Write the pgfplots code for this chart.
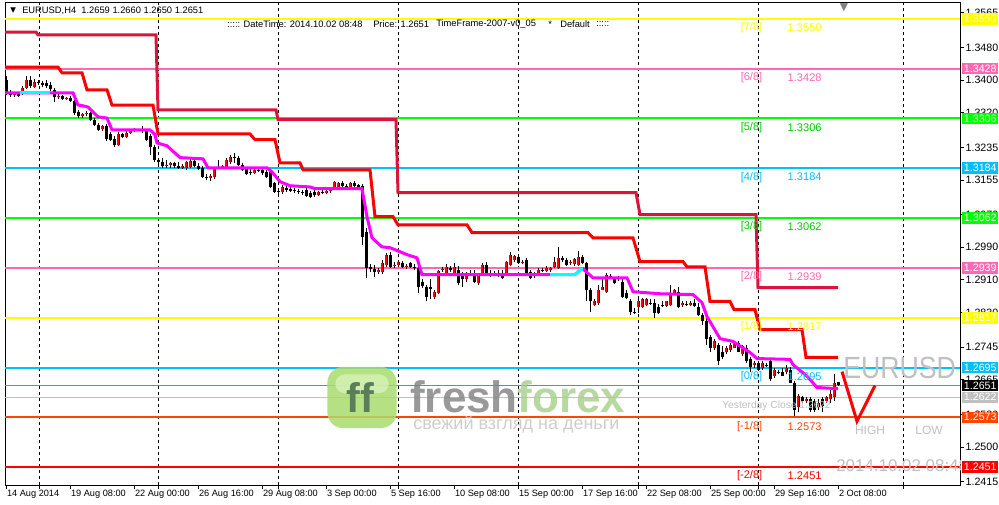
\documentclass[border=0pt]{standalone}
\usepackage{fontspec}
\setmainfont{Liberation Sans}
\newfontfamily\dejavu{DejaVu Sans}
\usepackage{graphicx}
\usepackage{pgfplots}
\usepackage{pgfplotstable}
\pgfplotsset{compat=1.18}
\definecolor{lvyellow}{RGB}{255,255,0}
\definecolor{lvpink}{RGB}{255,105,180}
\definecolor{lvgreen}{RGB}{0,255,0}
\definecolor{lvblue}{RGB}{0,191,255}
\definecolor{lvorange}{RGB}{255,69,0}
\definecolor{lvred}{RGB}{255,0,0}
\definecolor{pxline}{RGB}{119,136,153}
\definecolor{silverc}{RGB}{192,192,192}
\definecolor{crims}{RGB}{220,20,60}
\definecolor{magen}{RGB}{255,0,255}
\definecolor{cyn}{RGB}{0,255,255}
\definecolor{ffgray}{RGB}{128,128,128}
\definecolor{ffgreen}{RGB}{166,208,138}
\definecolor{ffdark}{RGB}{90,125,90}
\definecolor{logofill}{RGB}{170,220,110}
\definecolor{logohi}{RGB}{220,245,195}
\newcommand\midfont{\fontsize{8.3}{9}\selectfont}
\newcommand\hdrfont{\fontsize{7}{8}\selectfont}

\pgfplotstableread{
x o h l c
2 1.3364 1.3371 1.3359 1.3366
4 1.3369 1.3386 1.3364 1.3381
5 1.3381 1.3410 1.3378 1.3401
7 1.3383 1.3403 1.3381 1.3396
13 1.3359 1.3366 1.3354 1.3361
15 1.3354 1.3359 1.3352 1.3357
19 1.3312 1.3320 1.3307 1.3317
20 1.3317 1.3325 1.3312 1.3320
24 1.3280 1.3290 1.3276 1.3288
28 1.3241 1.3273 1.3239 1.3268
30 1.3261 1.3276 1.3258 1.3271
31 1.3271 1.3280 1.3269 1.3276
32 1.3276 1.3283 1.3273 1.3278
40 1.3190 1.3205 1.3185 1.3192
41 1.3192 1.3200 1.3185 1.3197
44 1.3185 1.3195 1.3182 1.3190
45 1.3185 1.3202 1.3180 1.3200
46 1.3187 1.3207 1.3185 1.3202
51 1.3160 1.3170 1.3153 1.3165
52 1.3163 1.3187 1.3158 1.3185
53 1.3185 1.3205 1.3182 1.3187
54 1.3187 1.3192 1.3182 1.3190
55 1.3187 1.3210 1.3185 1.3205
56 1.3200 1.3217 1.3195 1.3212
62 1.3173 1.3185 1.3170 1.3180
69 1.3126 1.3143 1.3121 1.3138
78 1.3119 1.3129 1.3116 1.3126
80 1.3124 1.3131 1.3121 1.3129
81 1.3129 1.3134 1.3124 1.3131
82 1.3136 1.3153 1.3134 1.3151
83 1.3138 1.3151 1.3134 1.3148
86 1.3138 1.3151 1.3136 1.3148
93 1.2930 1.2940 1.2925 1.2935
94 1.2930 1.2960 1.2925 1.2952
95 1.2947 1.2976 1.2942 1.2972
97 1.2945 1.2955 1.2940 1.2947
98 1.2947 1.2960 1.2942 1.2955
100 1.2942 1.2950 1.2937 1.2945
107 1.2869 1.2884 1.2862 1.2881
108 1.2879 1.2935 1.2876 1.2933
109 1.2935 1.2942 1.2930 1.2937
110 1.2928 1.2950 1.2925 1.2942
112 1.2923 1.2952 1.2920 1.2942
115 1.2911 1.2930 1.2906 1.2928
118 1.2903 1.2925 1.2898 1.2923
119 1.2923 1.2952 1.2920 1.2947
122 1.2925 1.2933 1.2920 1.2928
125 1.2925 1.2957 1.2920 1.2955
126 1.2947 1.2979 1.2945 1.2972
127 1.2960 1.2972 1.2955 1.2969
129 1.2952 1.2960 1.2950 1.2955
132 1.2920 1.2930 1.2915 1.2925
133 1.2923 1.2940 1.2920 1.2935
135 1.2933 1.2945 1.2930 1.2940
136 1.2935 1.2942 1.2930 1.2940
137 1.2942 1.2967 1.2940 1.2955
138 1.2940 1.2991 1.2937 1.2964
141 1.2952 1.2960 1.2947 1.2955
142 1.2950 1.2964 1.2945 1.2962
143 1.2947 1.2981 1.2945 1.2967
147 1.2849 1.2862 1.2847 1.2857
148 1.2854 1.2898 1.2849 1.2886
149 1.2886 1.2918 1.2884 1.2893
150 1.2881 1.2928 1.2879 1.2923
158 1.2844 1.2866 1.2830 1.2857
159 1.2844 1.2866 1.2842 1.2862
160 1.2849 1.2866 1.2847 1.2862
165 1.2847 1.2859 1.2844 1.2857
166 1.2849 1.2898 1.2847 1.2874
167 1.2879 1.2888 1.2874 1.2884
169 1.2849 1.2857 1.2844 1.2854
171 1.2849 1.2859 1.2847 1.2854
177 1.2744 1.2764 1.2739 1.2759
180 1.2732 1.2749 1.2727 1.2744
181 1.2739 1.2756 1.2734 1.2751
182 1.2744 1.2761 1.2742 1.2756
184 1.2727 1.2751 1.2724 1.2747
187 1.2700 1.2710 1.2695 1.2705
189 1.2693 1.2710 1.2690 1.2705
192 1.2675 1.2693 1.2670 1.2688
195 1.2683 1.2700 1.2680 1.2695
198 1.2597 1.2631 1.2585 1.2624
200 1.2614 1.2622 1.2609 1.2617
203 1.2597 1.2617 1.2592 1.2609
205 1.2614 1.2626 1.2609 1.2622
206 1.2617 1.2641 1.2609 1.2629
207 1.2622 1.2678 1.2612 1.2658
}\bull

\pgfplotstableread{
x o h l c
0 1.3401 1.3410 1.3364 1.3371
1 1.3371 1.3376 1.3359 1.3364
3 1.3366 1.3371 1.3359 1.3361
6 1.3401 1.3410 1.3381 1.3386
8 1.3396 1.3401 1.3388 1.3393
9 1.3393 1.3398 1.3383 1.3388
10 1.3393 1.3401 1.3381 1.3386
11 1.3388 1.3396 1.3374 1.3378
12 1.3376 1.3381 1.3347 1.3359
14 1.3361 1.3364 1.3352 1.3354
16 1.3357 1.3361 1.3347 1.3349
17 1.3349 1.3354 1.3315 1.3320
18 1.3322 1.3327 1.3307 1.3312
21 1.3320 1.3322 1.3300 1.3303
22 1.3303 1.3307 1.3288 1.3290
23 1.3290 1.3295 1.3276 1.3278
25 1.3288 1.3293 1.3251 1.3256
26 1.3268 1.3273 1.3251 1.3254
27 1.3256 1.3263 1.3236 1.3241
29 1.3268 1.3271 1.3258 1.3261
33 1.3278 1.3280 1.3276 1.3277
34 1.3278 1.3288 1.3271 1.3276
35 1.3276 1.3280 1.3251 1.3254
36 1.3263 1.3268 1.3217 1.3236
37 1.3236 1.3241 1.3200 1.3205
38 1.3205 1.3210 1.3190 1.3200
39 1.3200 1.3210 1.3185 1.3190
42 1.3197 1.3200 1.3185 1.3190
43 1.3190 1.3200 1.3182 1.3185
47 1.3202 1.3207 1.3187 1.3190
48 1.3190 1.3197 1.3180 1.3182
49 1.3185 1.3190 1.3160 1.3163
50 1.3163 1.3170 1.3156 1.3160
57 1.3212 1.3222 1.3197 1.3210
58 1.3210 1.3214 1.3190 1.3192
59 1.3192 1.3197 1.3178 1.3180
60 1.3182 1.3187 1.3168 1.3170
61 1.3175 1.3182 1.3168 1.3173
63 1.3180 1.3185 1.3175 1.3178
64 1.3180 1.3185 1.3168 1.3173
65 1.3175 1.3180 1.3160 1.3163
66 1.3175 1.3180 1.3136 1.3138
67 1.3148 1.3151 1.3124 1.3126
68 1.3129 1.3134 1.3121 1.3126
70 1.3136 1.3141 1.3126 1.3131
71 1.3134 1.3138 1.3126 1.3129
72 1.3131 1.3136 1.3124 1.3129
73 1.3129 1.3134 1.3121 1.3126
74 1.3126 1.3131 1.3119 1.3124
75 1.3131 1.3136 1.3114 1.3116
76 1.3124 1.3129 1.3112 1.3114
77 1.3126 1.3131 1.3114 1.3119
79 1.3126 1.3131 1.3121 1.3124
84 1.3148 1.3153 1.3138 1.3141
85 1.3141 1.3146 1.3136 1.3138
87 1.3148 1.3153 1.3138 1.3141
88 1.3143 1.3146 1.3134 1.3136
89 1.3141 1.3146 1.2996 1.3016
90 1.3028 1.3038 1.2915 1.2940
91 1.2942 1.2950 1.2930 1.2937
92 1.2937 1.2947 1.2918 1.2930
96 1.2972 1.2979 1.2940 1.2942
99 1.2952 1.2957 1.2940 1.2942
101 1.2952 1.2955 1.2940 1.2942
102 1.2942 1.2950 1.2935 1.2940
103 1.2940 1.2945 1.2879 1.2893
104 1.2906 1.2911 1.2891 1.2896
105 1.2893 1.2898 1.2857 1.2869
106 1.2893 1.2911 1.2862 1.2888
111 1.2940 1.2945 1.2930 1.2935
113 1.2935 1.2945 1.2898 1.2903
114 1.2923 1.2930 1.2893 1.2911
116 1.2928 1.2935 1.2920 1.2923
117 1.2928 1.2935 1.2903 1.2906
120 1.2947 1.2955 1.2925 1.2928
121 1.2928 1.2935 1.2918 1.2925
123 1.2925 1.2935 1.2918 1.2920
124 1.2928 1.2935 1.2913 1.2915
128 1.2967 1.2972 1.2950 1.2952
130 1.2960 1.2964 1.2920 1.2923
131 1.2930 1.2935 1.2913 1.2915
134 1.2935 1.2940 1.2930 1.2933
139 1.2964 1.2969 1.2955 1.2960
140 1.2960 1.2964 1.2945 1.2947
144 1.2967 1.2972 1.2950 1.2952
145 1.2952 1.2955 1.2857 1.2886
146 1.2886 1.2891 1.2832 1.2857
151 1.2920 1.2925 1.2913 1.2918
152 1.2911 1.2918 1.2901 1.2903
153 1.2915 1.2920 1.2908 1.2911
154 1.2906 1.2915 1.2866 1.2869
155 1.2879 1.2886 1.2862 1.2866
156 1.2857 1.2862 1.2825 1.2832
157 1.2832 1.2842 1.2827 1.2830
161 1.2854 1.2862 1.2849 1.2852
162 1.2854 1.2862 1.2817 1.2830
163 1.2844 1.2852 1.2827 1.2830
164 1.2849 1.2857 1.2844 1.2848
168 1.2881 1.2893 1.2842 1.2844
170 1.2852 1.2857 1.2847 1.2849
172 1.2854 1.2862 1.2844 1.2847
173 1.2844 1.2854 1.2822 1.2825
174 1.2825 1.2830 1.2800 1.2808
175 1.2808 1.2817 1.2751 1.2764
176 1.2769 1.2776 1.2734 1.2744
178 1.2751 1.2756 1.2700 1.2710
179 1.2734 1.2749 1.2717 1.2722
183 1.2754 1.2759 1.2732 1.2734
185 1.2744 1.2751 1.2707 1.2710
186 1.2715 1.2720 1.2685 1.2697
188 1.2705 1.2712 1.2688 1.2690
190 1.2702 1.2707 1.2697 1.2700
191 1.2710 1.2715 1.2663 1.2668
193 1.2685 1.2690 1.2678 1.2683
194 1.2685 1.2693 1.2673 1.2675
196 1.2690 1.2697 1.2656 1.2658
197 1.2658 1.2663 1.2575 1.2592
199 1.2622 1.2626 1.2609 1.2612
201 1.2617 1.2622 1.2587 1.2592
202 1.2612 1.2619 1.2585 1.2592
204 1.2617 1.2622 1.2587 1.2600
208 1.2659 1.2660 1.2650 1.2651
}\bear

\begin{document}
\begin{tikzpicture}
\fill[white] (0pt,0pt) rectangle (749.25pt,378pt);
\path[use as bounding box] (0pt,0pt) rectangle (749.25pt,378pt);
\begin{axis}[
  at={(3.75pt,14.25pt)}, anchor=south west,
  scale only axis, width=716.25pt, height=361.5pt,
  xmin=-0.25, xmax=238.5, ymin=1.24068, ymax=1.35893,
  axis line style={line width=0.75pt},
  tick style={black, line width=0.75pt},
  major tick length=3pt,
  tick align=outside,
  xtick pos=lower, ytick pos=right, yticklabel pos=right,
  xtick={0,16,32,48,64,80,96,112,128,144,160,176,192,208},
  xticklabels={14 Aug 2014, 19 Aug 08:00, 22 Aug 00:00, 26 Aug 16:00, 29 Aug 08:00, 3 Sep 00:00, 5 Sep 16:00, 10 Sep 08:00, 15 Sep 00:00, 17 Sep 16:00, 22 Sep 08:00, 25 Sep 00:00, 29 Sep 16:00, 2 Oct 08:00},
  xticklabel style={anchor=north west, font=\fontsize{6.9}{8}\selectfont, inner sep=0.6pt},
  extra x ticks={8.25,38,68,98,128,158,188,224.25},
  extra x tick labels={},
  extra x tick style={grid=major, major grid style={black, dash pattern=on 2.25pt off 2.25pt, line width=0.75pt}},
  ytick={1.2415,1.2500,1.2580,1.2665,1.2745,1.2830,1.2910,1.2990,1.3070,1.3155,1.3235,1.3320,1.3400,1.3480,1.3565},
  yticklabels={1.2415,1.2500,1.2580,1.2665,1.2745,1.2830,1.2910,1.2990,1.3070,1.3155,1.3235,1.3320,1.3400,1.3480,1.3565},
  yticklabel style={anchor=west, font=\fontsize{8}{9}\selectfont, inner sep=1pt},
  candle/.style={draw=none, mark=none, forget plot,
    error bars/.cd, y dir=plus, y explicit, error mark=none},
]
% level lines
\addplot[lvyellow, line width=1.5pt] coordinates {(-0.25,1.3550) (238.5,1.3550)};
\addplot[lvpink, line width=1.5pt] coordinates {(-0.25,1.3428) (238.5,1.3428)};
\addplot[lvgreen, line width=1.5pt] coordinates {(-0.25,1.3306) (238.5,1.3306)};
\addplot[lvblue, line width=1.5pt] coordinates {(-0.25,1.3184) (238.5,1.3184)};
\addplot[lvgreen, line width=1.5pt] coordinates {(-0.25,1.3062) (238.5,1.3062)};
\addplot[lvpink, line width=1.5pt] coordinates {(-0.25,1.2939) (238.5,1.2939)};
\addplot[lvyellow, line width=1.5pt] coordinates {(-0.25,1.2817) (238.5,1.2817)};
\addplot[lvblue, line width=1.5pt] coordinates {(-0.25,1.2695) (238.5,1.2695)};
\addplot[lvorange, line width=1.5pt] coordinates {(-0.25,1.2573) (238.5,1.2573)};
\addplot[lvred, line width=1.5pt] coordinates {(-0.25,1.2451) (238.5,1.2451)};
\addplot[pxline, line width=0.75pt] coordinates {(-0.25,1.2651) (238.5,1.2651)};
\addplot[silverc, line width=0.75pt] coordinates {(-0.25,1.2622) (238.5,1.2622)};

% candles: wicks
\addplot[candle, error bar style={draw=black, line width=0.75pt, solid}]
  table[x=x, y=l, y error expr=\thisrow{h}-\thisrow{l}] {\bull};
\addplot[candle, error bar style={draw=black, line width=0.75pt, solid}]
  table[x=x, y=l, y error expr=\thisrow{h}-\thisrow{l}] {\bear};
% bodies
\addplot[candle, error bar style={draw=black, line width=2.25pt, solid}]
  table[x=x, y=c, y error expr=\thisrow{o}-\thisrow{c}] {\bear};
\addplot[candle, error bar style={draw=black, line width=2.25pt, solid}]
  table[x=x, y=o, y error expr=\thisrow{c}-\thisrow{o}] {\bull};
\addplot[candle, error bar style={draw=red, line width=0.9pt, solid}]
  table[x=x, y=o, y error expr=\thisrow{c}-\thisrow{o}] {\bull};

% crimson step line
\addplot[crims, line width=2.25pt] coordinates {
(-0.25,1.3518) (7.5,1.3518) (8,1.3511) (37.5,1.3511) (38,1.3327) (67.5,1.3327) (68,1.3303) (97.5,1.3303) (98,1.3124) (157.5,1.3124) (158.5,1.3070) (187.5,1.3070) (188,1.2891) (208,1.2891)};
% red step line
\addplot[lvred, line width=2.25pt] coordinates {
(-0.25,1.3432) (13,1.3432) (14,1.3418) (19,1.3418) (20.25,1.3376) (25.25,1.3376) (26.5,1.3339) (36.75,1.3339) (38,1.3268) (61,1.3268) (62.25,1.3254) (67.25,1.3254) (68.5,1.3197) (73.5,1.3197) (74.25,1.3180) (91,1.3180) (92.25,1.3065) (96.75,1.3065) (98,1.3045) (115.25,1.3045) (116.5,1.3026) (145.5,1.3026) (146.75,1.3013) (156.75,1.3013) (158.5,1.2955) (169.25,1.2955) (170.25,1.2942) (174.75,1.2942) (176,1.2857) (181,1.2857) (182,1.2837) (187.25,1.2837) (188.5,1.2788) (199,1.2788) (200,1.2720) (208,1.2720)};
% magenta line
\addplot[magen, line width=2.25pt] coordinates {
(-0.25,1.3369) (16.75,1.3369) (18,1.3339) (19.25,1.3337) (20.5,1.3334) (21.75,1.3322) (23,1.3310) (25.25,1.3307) (26.5,1.3278) (36,1.3278) (37.25,1.3266) (37.75,1.3246) (40.25,1.3239) (43.5,1.3210) (49.25,1.3207) (50.5,1.3185) (65.25,1.3185) (66.5,1.3175) (68.5,1.3151) (71,1.3141) (76,1.3138) (77.25,1.3134) (89,1.3134) (90.25,1.3065) (91.5,1.3013) (94,1.2991) (96,1.2989) (98.5,1.2979) (100.25,1.2972) (102.75,1.2964) (104,1.2923) (136,1.2923) (142.25,1.2923) (143.5,1.2935) (144.25,1.2937) (146.75,1.2915) (155.25,1.2915) (156.75,1.2881) (163.5,1.2876) (171.75,1.2874) (174,1.2854) (175.25,1.2820) (178.5,1.2766) (181.75,1.2759) (186,1.2732) (187.75,1.2717) (196,1.2715) (196.75,1.2702) (200.25,1.2674) (202.75,1.2646) (208,1.2643)};
\addplot[cyn, line width=2.25pt] coordinates {(3.5,1.3369) (11,1.3369)};
\addplot[cyn, line width=2.25pt] coordinates {(136,1.2923) (142.25,1.2923) (143.5,1.2935) (144.25,1.2937)};
% V sign
\addplot[lvred, line width=2.25pt] coordinates {(209,1.2685) (212.75,1.2563) (217.25,1.2651)};

% level texts
\node[anchor=east, text=lvyellow, font=\midfont] at (axis cs:190.25,1.3528) {[7/8]};
\node[anchor=west, text=lvyellow, font=\midfont] at (axis cs:194.25,1.3528) {1.3550};
\node[anchor=east, text=lvpink, font=\midfont] at (axis cs:190.25,1.3406) {[6/8]};
\node[anchor=west, text=lvpink, font=\midfont] at (axis cs:194.25,1.3406) {1.3428};
\node[anchor=east, text=lvgreen!80!black, font=\midfont] at (axis cs:190.25,1.3284) {[5/8]};
\node[anchor=west, text=lvgreen!80!black, font=\midfont] at (axis cs:194.25,1.3284) {1.3306};
\node[anchor=east, text=lvblue, font=\midfont] at (axis cs:190.25,1.3162) {[4/8]};
\node[anchor=west, text=lvblue, font=\midfont] at (axis cs:194.25,1.3162) {1.3184};
\node[anchor=east, text=lvgreen!80!black, font=\midfont] at (axis cs:190.25,1.3040) {[3/8]};
\node[anchor=west, text=lvgreen!80!black, font=\midfont] at (axis cs:194.25,1.3040) {1.3062};
\node[anchor=east, text=lvpink, font=\midfont] at (axis cs:190.25,1.2917) {[2/8]};
\node[anchor=west, text=lvpink, font=\midfont] at (axis cs:194.25,1.2917) {1.2939};
\node[anchor=east, text=lvyellow, font=\midfont] at (axis cs:190.25,1.2795) {[1/8]};
\node[anchor=west, text=lvyellow, font=\midfont] at (axis cs:194.25,1.2795) {1.2817};
\node[anchor=east, text=lvblue, font=\midfont] at (axis cs:190.25,1.2673) {[0/8]};
\node[anchor=west, text=lvblue, font=\midfont] at (axis cs:194.25,1.2673) {1.2695};
\node[anchor=east, text=lvorange, font=\midfont] at (axis cs:190.25,1.2551) {[-1/8]};
\node[anchor=west, text=lvorange, font=\midfont] at (axis cs:194.25,1.2551) {1.2573};
\node[anchor=east, text=lvred, font=\midfont] at (axis cs:190.25,1.2429) {[-2/8]};
\node[anchor=west, text=lvred, font=\midfont] at (axis cs:194.25,1.2429) {1.2451};

% other texts
\node[anchor=west, text=silverc, font=\fontsize{7.7}{9}\selectfont, inner sep=0pt] at (axis cs:179,1.2602) {Yesterday Close 1.2622};
\node[anchor=west, text=silverc, font=\fontsize{23}{25}\selectfont, inner sep=0pt] at (axis cs:209.25,1.2693) {\scalebox{0.87}[1]{EURUSD}};
\node[text=silverc, font=\fontsize{9}{10}\selectfont, inner sep=0pt] at (axis cs:216,1.2541) {HIGH};
\node[text=silverc, font=\fontsize{9}{10}\selectfont, inner sep=0pt] at (axis cs:230.75,1.2541) {LOW};
\node[anchor=west, text=silverc, font=\fontsize{12.7}{14}\selectfont, inner sep=0pt] at (axis cs:207.5,1.2453) {2014.10.02 08:48};

% header
\node[anchor=west, font=\dejavu\fontsize{5.5}{6}\selectfont, inner sep=0pt] at (axis cs:1,1.35697) {▼};
\node[anchor=west, font=\hdrfont, inner sep=0pt] at (axis cs:4,1.35697) {EURUSD,H4\ \ 1.2659 1.2660 1.2650 1.2651};
\node[anchor=west, font=\hdrfont, inner sep=0pt] at (axis cs:55.25,1.35378) {::::: DateTime: 2014.10.02 08:48};
\node[anchor=west, font=\hdrfont, inner sep=0pt] at (axis cs:91.75,1.35378) {Price: 1.2651};
\node[anchor=west, font=\hdrfont, inner sep=0pt] at (axis cs:107.5,1.35378) {TimeFrame-2007-v0\_05};
\node[anchor=west, font=\hdrfont, inner sep=0pt] at (axis cs:135.5,1.35378) {*};
\node[anchor=west, font=\hdrfont, inner sep=0pt] at (axis cs:138.5,1.35378) {Default};
\node[anchor=west, font=\hdrfont, inner sep=0pt] at (axis cs:147.5,1.35378) {:::::};
\node[anchor=north, text=gray, font=\dejavu\fontsize{8}{8}\selectfont, inner sep=0pt] at (axis cs:209.5,1.35893) {▼};

% watermark
\node[rounded corners=12pt, minimum width=52pt, minimum height=46pt, fill=logofill, fill opacity=0.85, inner sep=0pt] at (axis cs:89,1.26215) {};
\node[rounded corners=7pt, minimum width=40pt, minimum height=14pt, fill=logohi, fill opacity=0.7, inner sep=0pt] at (axis cs:89,1.2655) {};
\node[text=ffdark, font=\bfseries\fontsize{31}{33}\selectfont, inner sep=0pt] at (axis cs:88.5,1.2622) {ff};
\node[anchor=base west, font=\bfseries\fontsize{33}{35}\selectfont, inner sep=0pt, text opacity=0.8] at (axis cs:101,1.2585) {\textcolor{ffgray}{fresh}\textcolor{ffgreen}{forex}};
\node[anchor=base west, text=silverc!85!white, font=\fontsize{13.5}{15}\selectfont, inner sep=0pt, text opacity=0.9] at (axis cs:101.75,1.2543) {свежий взгляд на деньги};

% anchors for right-side boxes
\coordinate (r1) at (axis cs:238.5,1.3550);
\coordinate (r2) at (axis cs:238.5,1.3428);
\coordinate (r3) at (axis cs:238.5,1.3306);
\coordinate (r4) at (axis cs:238.5,1.3184);
\coordinate (r5) at (axis cs:238.5,1.3062);
\coordinate (r6) at (axis cs:238.5,1.2939);
\coordinate (r7) at (axis cs:238.5,1.2817);
\coordinate (r8) at (axis cs:238.5,1.2695);
\coordinate (r9) at (axis cs:238.5,1.2651);
\coordinate (r10) at (axis cs:238.5,1.2622);
\coordinate (r11) at (axis cs:238.5,1.2573);
\coordinate (r12) at (axis cs:238.5,1.2451);
\end{axis}
\tikzset{pbox/.style={anchor=west, xshift=1.5pt, minimum width=27pt, minimum height=8.6pt, inner sep=0pt, text=white, font=\fontsize{8}{8}\selectfont}}
\node[pbox, fill=lvyellow] at (r1) {1.3550};
\node[pbox, fill=lvpink] at (r2) {1.3428};
\node[pbox, fill=lvgreen] at (r3) {1.3306};
\node[pbox, fill=lvblue] at (r4) {1.3184};
\node[pbox, fill=lvgreen] at (r5) {1.3062};
\node[pbox, fill=lvpink] at (r6) {1.2939};
\node[pbox, fill=lvyellow] at (r7) {1.2817};
\node[pbox, fill=lvblue] at (r8) {1.2695};
\node[pbox, fill=black] at (r9) {1.2651};
\node[pbox, fill=silverc] at (r10) {1.2622};
\node[pbox, fill=lvorange] at (r11) {1.2573};
\node[pbox, fill=lvred] at (r12) {1.2451};
\end{tikzpicture}
\end{document}
